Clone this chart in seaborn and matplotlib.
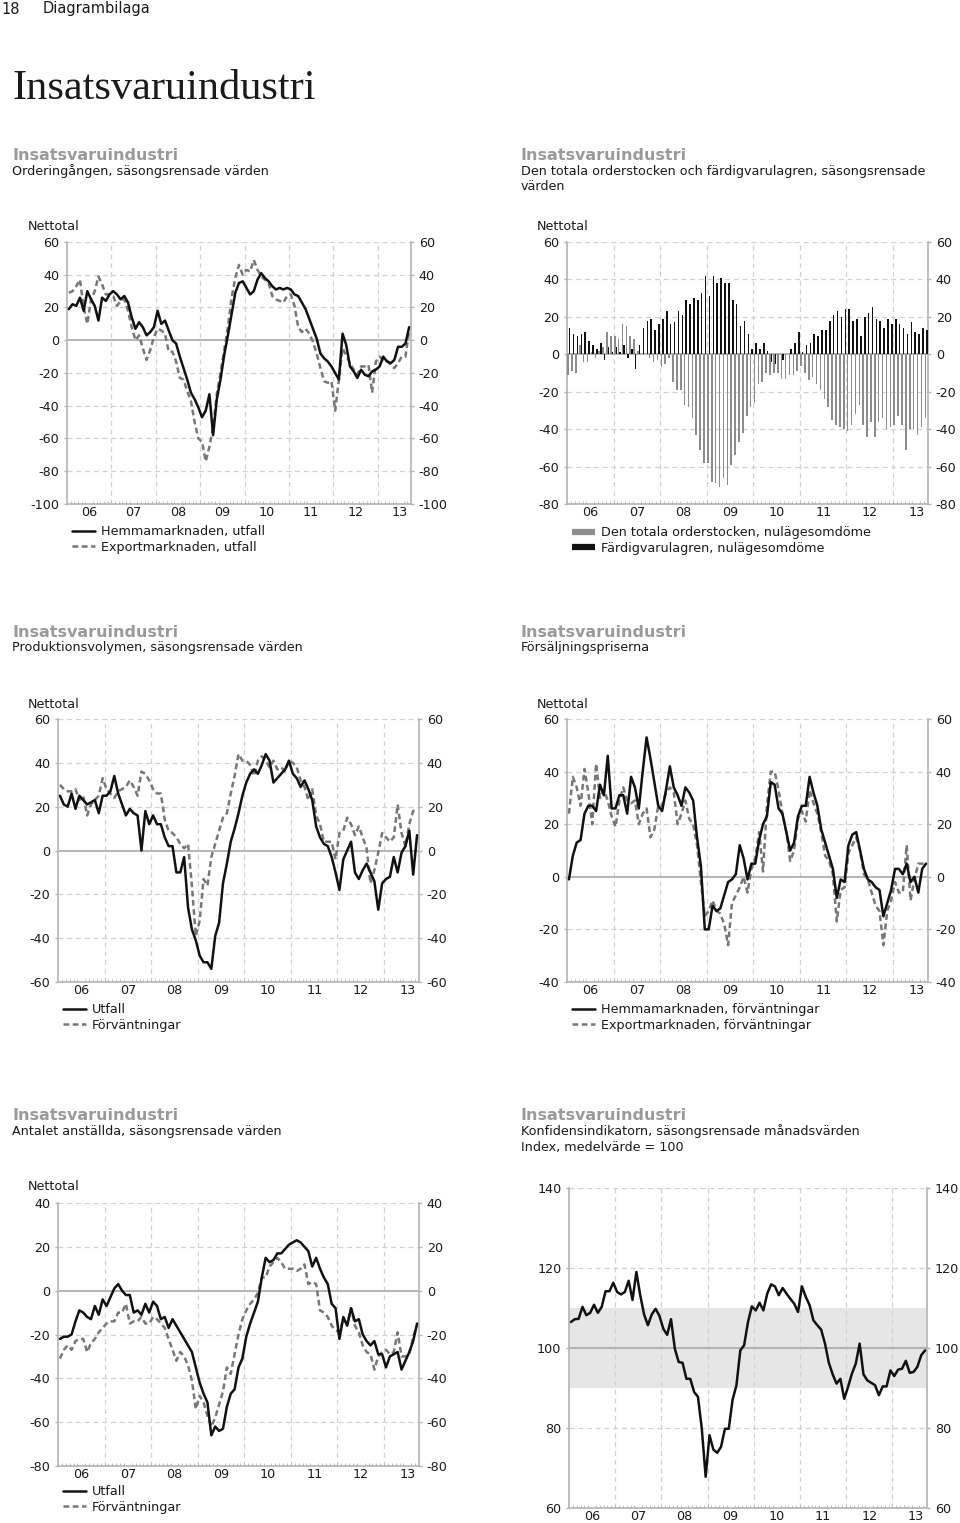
import numpy as np
import pandas as pd
import matplotlib
matplotlib.use("Agg")
import matplotlib.pyplot as plt
import seaborn as sns
from matplotlib.lines import Line2D

sns.set_style("white")
plt.rcParams['font.family'] = ['DejaVu Sans']

# -------------------------
# Data (monthly, jan 2006 - sep 2013)
# -------------------------
year_labels = ['06', '07', '08', '09', '10', '11', '12', '13']

# Orderingången
order_hemma = [19, 22, 21, 26, 18, 30, 25, 21, 12, 26, 24, 28,
               30, 28, 25, 27, 23, 14, 7, 11, 8, 3, 5, 8,
               18, 10, 12, 6, 0, -2, -10, -17, -24, -32, -36, -41,
               -47, -43, -33, -58, -36, -24, -9, 3, 16, 29, 35, 36,
               32, 28, 30, 37, 41, 38, 36, 33, 31, 32, 31, 32,
               31, 28, 27, 23, 19, 13, 7, 1, -8, -11, -13, -16,
               -20, -24, 4, -3, -16, -19, -23, -18, -21, -22, -19, -18,
               -16, -10, -13, -14, -12, -4, -4, -2, 8]
order_export = [29, 30, 33, 37, 20, 10, 25, 30, 39, 34, 28, 28,
                27, 21, 24, 25, 18, 8, 0, 3, -5, -12, -6, 2,
                7, 6, 4, -7, -7, -13, -23, -24, -31, -37, -50, -60,
                -62, -74, -65, -53, -33, -20, -6, 8, 26, 38, 46, 40,
                43, 42, 49, 43, 39, 37, 35, 27, 25, 24, 23, 27,
                28, 21, 8, 5, 7, 4, -1, -8, -17, -25, -26, -25,
                -43, -24, -5, -9, -14, -18, -21, -16, -16, -15, -32, -13,
                -10, -12, -12, -15, -17, -14, -10, -10, 6]

# Orderstock och färdigvarulager
orderstock = [-11, -9, -10, 5, -4, -4, 1, -2, 2, 4, 12, 10,
              10, 8, 16, 15, 10, 8, 2, 0, 0, -2, -4, -3,
              -7, -5, -2, -15, -19, -19, -27, -28, -34, -43, -51, -58,
              -58, -68, -69, -71, -66, -70, -59, -54, -47, -42, -33, -28,
              -26, -16, -15, -10, -11, -10, -10, -13, -13, -11, -11, -9,
              -6, -10, -14, -12, -16, -19, -24, -28, -35, -38, -39, -40,
              -41, -38, -32, -27, -38, -44, -36, -44, -36, -34, -40, -39,
              -38, -33, -38, -51, -40, -40, -43, -39, -34]
lager = [14, 11, 10, 11, 12, 7, 5, 3, 6, -3, 4, 1,
         4, 1, 5, -2, 3, -8, 5, 14, 18, 19, 13, 16,
         19, 23, 16, 17, 23, 21, 29, 27, 30, 29, 33, 42,
         31, 42, 38, 41, 38, 38, 29, 27, 15, 18, 11, 3,
         6, 3, 6, 2, -4, -5, 0, -3, 0, 3, 6, 12,
         1, 5, 6, 11, 10, 13, 13, 18, 21, 23, 20, 24,
         24, 18, 19, 10, 20, 22, 25, 19, 18, 14, 19, 16,
         19, 16, 14, 11, 17, 12, 11, 14, 13]

# Produktionsvolymen
prod_utfall = [25, 21, 20, 26, 19, 25, 23, 21, 22, 23, 17, 25,
               25, 27, 34, 26, 21, 16, 19, 17, 16, 0, 18, 12,
               16, 12, 12, 6, 2, 2, -10, -10, -3, -26, -36, -41,
               -48, -51, -51, -54, -39, -33, -15, -6, 4, 10, 17, 25,
               31, 35, 37, 35, 39, 44, 41, 31, 33, 35, 37, 41,
               35, 33, 29, 32, 28, 23, 11, 6, 3, 2, -3, -10,
               -18, -4, 0, 4, -10, -13, -9, -6, -10, -14, -27, -15,
               -13, -12, -3, -10, -1, 2, 9, -11, 7]
prod_forv = [30, 28, 27, 27, 28, 23, 25, 16, 21, 23, 25, 33,
             28, 26, 24, 27, 28, 29, 32, 29, 25, 36, 35, 32,
             28, 26, 26, 14, 9, 8, 6, 3, 1, 3, -16, -39,
             -32, -13, -16, -3, 3, 9, 15, 17, 26, 34, 44, 41,
             41, 39, 34, 41, 43, 41, 38, 41, 37, 38, 36, 41,
             40, 38, 32, 29, 23, 28, 16, 12, 4, 4, 4, -4,
             8, 9, 15, 12, 7, 11, 6, 1, -15, -9, -1, 8,
             6, 4, 6, 21, 8, 2, 12, 18, 19]

# Försäljningspriserna
pris_hemma = [-1, 8, 13, 14, 24, 27, 27, 25, 35, 31, 46, 26,
              26, 31, 31, 24, 38, 34, 26, 40, 53, 45, 36, 27,
              25, 33, 42, 34, 31, 27, 34, 32, 29, 15, 4, -20,
              -20, -11, -13, -12, -7, -2, -1, 1, 12, 7, -1, 5,
              5, 14, 20, 23, 36, 35, 26, 24, 17, 10, 13, 23,
              27, 27, 38, 32, 27, 18, 13, 8, 3, -8, -1, -2,
              12, 16, 17, 10, 3, -1, -2, -4, -5, -15, -10, -5,
              3, 3, 1, 5, -2, 0, -6, 3, 5]
pris_export = [24, 38, 34, 27, 41, 32, 20, 43, 30, 33, 29, 23,
               19, 29, 34, 29, 28, 29, 20, 24, 26, 15, 18, 27,
               27, 32, 34, 32, 20, 24, 29, 22, 20, 12, -2, -15,
               -13, -9, -13, -14, -18, -26, -10, -7, -4, 0, -6, 3,
               7, 17, 2, 27, 40, 40, 33, 24, 17, 6, 10, 22,
               25, 21, 33, 28, 24, 17, 8, 6, 1, -17, -5, -4,
               9, 12, 15, 10, 1, -1, -6, -11, -13, -26, -13, -9,
               -2, -6, -6, 12, -9, -1, 5, 5, 5]

# Antalet anställda
anst_utfall = [-22, -21, -21, -20, -14, -9, -10, -12, -13, -7, -11, -4,
               -7, -3, 1, 3, 0, -2, -2, -10, -9, -11, -6, -10,
               -5, -7, -13, -12, -17, -13, -16, -19, -22, -25, -28, -35,
               -42, -47, -51, -66, -62, -64, -63, -53, -47, -45, -35, -31,
               -21, -15, -10, -5, 6, 15, 13, 14, 17, 17, 19, 21,
               22, 23, 22, 20, 18, 11, 15, 10, 6, 3, -6, -8,
               -22, -12, -16, -8, -14, -13, -20, -23, -25, -23, -29, -29,
               -35, -30, -29, -28, -36, -32, -28, -23, -15]
anst_forv = [-31, -27, -25, -27, -23, -22, -22, -28, -24, -22, -19, -17,
             -15, -14, -14, -10, -10, -6, -15, -14, -14, -12, -15, -15,
             -12, -13, -15, -17, -22, -27, -32, -28, -30, -34, -41, -54,
             -48, -51, -57, -62, -58, -52, -46, -35, -38, -29, -20, -13,
             -9, -6, -4, -1, 6, 6, 11, 13, 15, 13, 10, 10,
             10, 9, 10, 12, 3, 4, 3, -9, -10, -12, -16, -18,
             -19, -13, -15, -8, -16, -19, -25, -28, -29, -36, -30, -28,
             -27, -29, -28, -19, -30, -30, -29, -21, -16]

# Konfidensindikatorn
konfidens = [106.5, 107.2, 107.3, 110.3, 108.2, 108.8, 110.8, 108.8, 110.3, 114.2, 114.2, 116.3,
             114.0, 113.4, 114.0, 116.8, 112.0, 119.0, 113.2, 108.4, 105.7, 108.4, 109.8, 108.0,
             104.8, 103.3, 107.2, 99.8, 96.5, 96.3, 92.3, 92.3, 89.0, 87.8, 79.8, 67.8,
             78.2, 74.6, 73.8, 75.3, 79.8, 79.8, 87.1, 90.7, 99.4, 100.7, 106.5, 110.4,
             109.4, 111.3, 109.4, 113.6, 115.9, 115.4, 113.2, 115.0, 113.6, 112.3, 111.1, 109.0,
             115.4, 112.8, 110.7, 106.9, 105.7, 104.6, 101.1, 96.3, 93.4, 91.1, 92.3, 87.3,
             90.3, 93.6, 96.1, 101.1, 93.4, 91.9, 91.3, 90.7, 88.2, 90.4, 90.4, 94.4,
             93.0, 94.6, 94.8, 96.8, 93.8, 94.0, 95.3, 98.2, 99.4]

months = list(range(len(konfidens)))

# -------------------------
# Style
# -------------------------
W, H = 960, 1523
TEXT = '#1a1a1a'
TITLE_GRAY = '#9a9a9a'
DASH_COL = '#777777'
BAR_GRAY = '#8c8c8c'
GRID = '#d2d2d2'
SPINE = '#b4b4b4'
LW = 1.8
DASHES = (2.3, 1.4)
FS = 9.2


def box(x0, y0, x1, y1):
    return [x0 / W, 1 - y1 / H, (x1 - x0) / W, (y1 - y0) / H]


def style_axis(ax, lo, hi, step, ref=0):
    n = len(months)
    ax.set_xlim(-0.5, n - 0.5)
    ax.set_ylim(lo, hi)
    ticks = np.arange(lo, hi + 1, step)
    ax.set_yticks(ticks)
    ax.set_yticklabels([str(int(t)) for t in ticks])
    ax.tick_params(axis='y', left=True, right=True, labelleft=True, labelright=True,
                   length=2.5, width=1, color=SPINE, pad=3, labelsize=FS, labelcolor=TEXT)
    # year labels + monthly minor ticks
    ax.set_xticks([12 * k + 5.5 for k in range(len(year_labels))])
    ax.set_xticklabels(year_labels)
    ax.set_xticks([m - 0.5 for m in months[1:]], minor=True)
    ax.tick_params(axis='x', which='major', length=0, pad=1.5, labelsize=FS, labelcolor=TEXT)
    ax.tick_params(axis='x', which='minor', bottom=True, direction='in', length=2,
                   width=0.6, color=SPINE)
    ax.set_xlabel('')
    ax.set_ylabel('')
    for t in ticks[1:]:
        if t != ref:
            ax.axhline(t, color=GRID, lw=0.9, ls=(0, (4, 3)), zorder=0)
    for k in range(1, len(year_labels)):
        ax.axvline(12 * k - 0.5, color=GRID, lw=0.9, ls=(0, (4, 3)), zorder=0)
    ax.axhline(ref, color='#a8a8a8', lw=1.2, zorder=1)
    ax.spines['top'].set_visible(False)
    for s in ['left', 'right', 'bottom']:
        ax.spines[s].set_color(SPINE)
        ax.spines[s].set_linewidth(1.2)


def lines(ax, solid, dashed):
    sns.lineplot(x=months, y=dashed, ax=ax, color=DASH_COL, lw=LW, zorder=3)
    ax.get_lines()[-1].set_dashes(DASHES)
    sns.lineplot(x=months, y=solid, ax=ax, color='#111111', lw=LW, zorder=4)


def legend(ax, labels, x, y, bars=False):
    if bars:
        handles = [Line2D([], [], color=BAR_GRAY, lw=4.5, solid_capstyle='butt'),
                   Line2D([], [], color='#111111', lw=4.5, solid_capstyle='butt')]
    else:
        handles = [Line2D([], [], color='#111111', lw=LW),
                   Line2D([], [], color=DASH_COL, lw=LW, dashes=DASHES)]
    ax.legend(handles, labels, loc='upper left', bbox_to_anchor=(x / W, 1 - y / H),
              bbox_transform=fig.transFigure, frameon=False, fontsize=FS,
              handlelength=1.8, handletextpad=0.45, labelspacing=0.2,
              borderpad=0, borderaxespad=0, labelcolor=TEXT)


def titles(x, y, lines_):
    fig.text(x / W, 1 - y / H, 'Insatsvaruindustri', fontsize=11.5, fontweight='bold',
             color=TITLE_GRAY, va='center', ha='left')
    for i, s in enumerate(lines_):
        fig.text(x / W, 1 - (y + 16 + 16 * i) / H, s, fontsize=9.2, color=TEXT,
                 va='center', ha='left')


def nettotal(x, y):
    fig.text(x / W, 1 - y / H, 'Nettotal', fontsize=FS, color=TEXT, va='center', ha='left')


fig = plt.figure(figsize=(W / 100, H / 100), dpi=100)

# Header
fig.text(1 / W, 1 - 9 / H, '18', fontsize=10.5, color=TEXT, va='center', ha='left')
fig.text(43 / W, 1 - 9 / H, 'Diagrambilaga', fontsize=10.5, color=TEXT, va='center', ha='left')
fig.text(12 / W, 1 - 99 / H, 'Insatsvaruindustri', fontsize=30.5, color=TEXT,
         family='Liberation Serif', va='baseline', ha='left')

# -------------------------
# 1. Orderingången
# -------------------------
ax1 = fig.add_axes(box(67, 242, 411, 504))
lines(ax1, order_hemma, order_export)
style_axis(ax1, -100, 60, 20)
titles(12, 155, ['Orderingången, säsongsrensade värden'])
nettotal(28, 227)
legend(ax1, ['Hemmamarknaden, utfall', 'Exportmarknaden, utfall'], 72, 525)

# -------------------------
# 2. Orderstock / lager
# -------------------------
ax2 = fig.add_axes(box(567, 242, 928, 504))
bars = pd.DataFrame({
    'month': months * 2,
    'value': orderstock + lager,
    'serie': ['Den totala orderstocken, nulägesomdöme'] * len(months)
             + ['Färdigvarulagren, nulägesomdöme'] * len(months),
})
sns.barplot(data=bars, x='month', y='value', hue='serie',
            palette=[BAR_GRAY, '#111111'], width=0.8, saturation=1,
            linewidth=0, errorbar=None, legend=False, ax=ax2, zorder=3)
style_axis(ax2, -80, 60, 20)
titles(521, 155, ['Den totala orderstocken och färdigvarulagren, säsongsrensade', 'värden'])
nettotal(537, 227)
legend(ax2, ['Den totala orderstocken, nulägesomdöme', 'Färdigvarulagren, nulägesomdöme'],
       572, 526, bars=True)

# -------------------------
# 3. Produktionsvolymen
# -------------------------
ax3 = fig.add_axes(box(58, 719, 419, 982))
lines(ax3, prod_utfall, prod_forv)
style_axis(ax3, -60, 60, 20)
titles(12, 632, ['Produktionsvolymen, säsongsrensade värden'])
nettotal(28, 704)
legend(ax3, ['Utfall', 'Förväntningar'], 63, 1003)

# -------------------------
# 4. Försäljningspriserna
# -------------------------
ax4 = fig.add_axes(box(567, 719, 928, 982))
lines(ax4, pris_hemma, pris_export)
style_axis(ax4, -40, 60, 20)
titles(521, 632, ['Försäljningspriserna'])
nettotal(537, 704)
legend(ax4, ['Hemmamarknaden, förväntningar', 'Exportmarknaden, förväntningar'], 572, 1003)

# -------------------------
# 5. Antalet anställda
# -------------------------
ax5 = fig.add_axes(box(58, 1203, 419, 1466))
lines(ax5, anst_utfall, anst_forv)
style_axis(ax5, -80, 40, 20)
titles(12, 1115, ['Antalet anställda, säsongsrensade värden'])
nettotal(28, 1187)
legend(ax5, ['Utfall', 'Förväntningar'], 63, 1485)

# -------------------------
# 6. Konfidensindikatorn
# -------------------------
ax6 = fig.add_axes(box(569, 1188, 927, 1508))
ax6.axhspan(90, 110, color='#e6e6e6', lw=0, zorder=0)
sns.lineplot(x=months, y=konfidens, ax=ax6, color='#111111', lw=LW, zorder=4)
style_axis(ax6, 60, 140, 20, ref=100)
titles(521, 1115, ['Konfidensindikatorn, säsongsrensade månadsvärden',
                   'Index, medelvärde = 100'])

fig.savefig('out.png', dpi=100)
